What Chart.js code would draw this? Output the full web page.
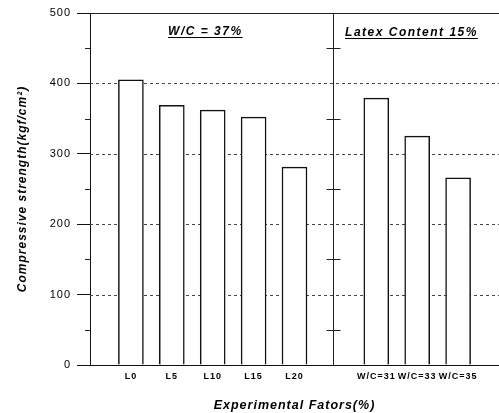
<!DOCTYPE html>
<html>
<head>
<meta charset="utf-8">
<script src="https://cdn.jsdelivr.net/npm/chart.js@4"></script>
<style>
    body { margin: 0; background: #fff; }
    #wrap { width: 499px; height: 413px; }
</style>
</head>
<body>
<div id="wrap"><canvas id="strengthChart"></canvas></div>
<script>
    'use strict';

    // categories along the x axis (empty slots are spacers / the divider)
    const categories = ['', 'L0', 'L5', 'L10', 'L15', 'L20', '', 'W/C=31', 'W/C=33', 'W/C=35', ''];
    // compressive strength, kgf/cm2
    const strengths = [null, 405, 369, 362, 352, 281, null, 379, 325, 266, null];
    const dividerIndex = 6;
    const dashedLevels = [100, 200, 300, 400];
    const minorTicks = [50, 150, 250, 350, 450];
    const groupLabels = ['W/C = 37%', 'Latex Content 15%'];

    const FONT = '"Liberation Sans", Arial, sans-serif';

    // gridlines, divider and minor ticks drawn behind the bars
    const framePlugin = {
        id: 'frame',
        beforeDraw(chart) {
            chart.ctx.letterSpacing = '1px';
        },
        beforeDatasetsDraw(chart) {
            const ctx = chart.ctx;
            const a = chart.chartArea;
            const x = chart.scales.x;
            const y = chart.scales.y;
            ctx.save();
            ctx.strokeStyle = '#444';
            ctx.lineWidth = 1;
            ctx.setLineDash([3, 3]);
            dashedLevels.forEach((v) => {
                const py = Math.round(y.getPixelForValue(v)) + 0.5;
                ctx.beginPath();
                ctx.moveTo(a.left, py);
                ctx.lineTo(a.right, py);
                ctx.stroke();
            });
            ctx.setLineDash([]);
            ctx.strokeStyle = '#222';
            // top frame line
            const topY = Math.round(y.getPixelForValue(y.max)) + 0.5;
            ctx.beginPath();
            ctx.moveTo(a.left, topY);
            ctx.lineTo(a.right, topY);
            ctx.stroke();
            // divider between the two groups
            const dx = Math.round(x.getPixelForValue(dividerIndex)) - 1.5;
            ctx.beginPath();
            ctx.moveTo(dx, a.top);
            ctx.lineTo(dx, a.bottom);
            ctx.stroke();
            minorTicks.forEach((v) => {
                const py = Math.round(y.getPixelForValue(v)) + 0.5;
                ctx.beginPath();
                ctx.moveTo(a.left - 5, py);
                ctx.lineTo(a.left, py);
                ctx.moveTo(dx - 7, py);
                ctx.lineTo(dx + 7, py);
                ctx.stroke();
            });
            ctx.restore();
        },
        afterDraw(chart) {
            const ctx = chart.ctx;
            const a = chart.chartArea;
            const w = a.right - a.left;
            ctx.save();
            ctx.font = 'italic bold 12px ' + FONT;
            ctx.letterSpacing = '1.5px';
            ctx.fillStyle = '#000';
            ctx.strokeStyle = '#000';
            ctx.lineWidth = 1;
            ctx.textAlign = 'center';
            ctx.textBaseline = 'alphabetic';
            const spots = [[0.282, 35], [0.786, 36]];
            groupLabels.forEach((t, i) => {
                const cx = a.left + w * spots[i][0];
                const by = spots[i][1];
                ctx.fillText(t, cx, by);
                const tw = ctx.measureText(t).width;
                ctx.beginPath();
                ctx.moveTo(cx - tw / 2, by + 2.5);
                ctx.lineTo(cx + tw / 2, by + 2.5);
                ctx.stroke();
            });
            ctx.restore();
        }
    };

    new Chart(document.getElementById('strengthChart'), {
        type: 'bar',
        data: {
            labels: categories,
            datasets: [{
                data: strengths,
                backgroundColor: '#fff',
                borderColor: '#111',
                borderWidth: 1.5,
                barThickness: 25
            }]
        },
        options: {
            responsive: true,
            maintainAspectRatio: false,
            animation: false,
            layout: { padding: { top: 13, right: 0, left: 0, bottom: 0 } },
            plugins: {
                legend: { display: false },
                tooltip: { enabled: false }
            },
            scales: {
                x: {
                    offset: false,
                    grid: { display: true, drawOnChartArea: false, drawTicks: false, offset: false },
                    border: { display: true, color: '#111', width: 1 },
                    ticks: {
                        autoSkip: false,
                        maxRotation: 0,
                        padding: 6,
                        color: '#000',
                        font: { family: FONT, size: 9, weight: 'bold' }
                    },
                    title: {
                        display: true,
                        text: 'Experimental Fators(%)',
                        color: '#000',
                        padding: { top: 0, bottom: 0 },
                        font: { family: FONT, size: 12.5, weight: 'bold', style: 'italic' }
                    },
                    afterFit(scale) {
                        scale.height = 48;
                        scale.paddingLeft = 0;
                        scale.paddingRight = 0;
                    }
                },
                y: {
                    min: 0,
                    max: 500,
                    ticks: {
                        stepSize: 100,
                        padding: 6,
                        color: '#000',
                        font: { family: FONT, size: 11 }
                    },
                    grid: { drawOnChartArea: false, drawTicks: true, tickLength: 13, tickColor: '#111' },
                    border: { display: true, color: '#111', width: 1 },
                    title: {
                        display: true,
                        text: 'Compressive strength(kgf/cm²)',
                        color: '#000',
                        padding: { top: 15, bottom: 0 },
                        font: { family: FONT, size: 12, weight: 'bold', style: 'italic' }
                    },
                    afterFit(scale) { scale.width = 90; }
                }
            }
        },
        plugins: [framePlugin]
    });
</script>
</body>
</html>
